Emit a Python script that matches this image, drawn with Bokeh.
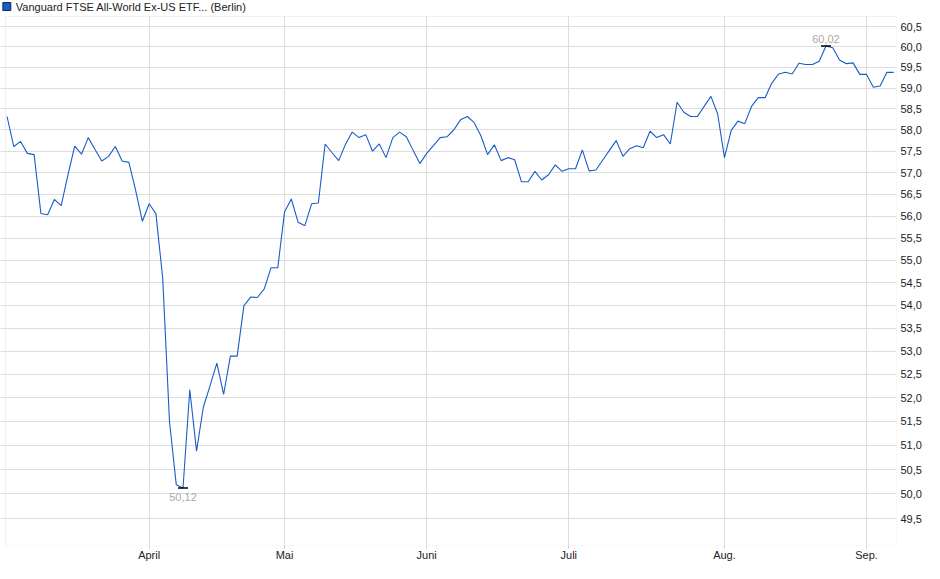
import pandas as pd
from bokeh.plotting import figure
from bokeh.models import (Range1d, FixedTicker, CustomJSTickFormatter, BoxAnnotation)
from bokeh.core.properties import value
from bokeh.embed import file_html
from bokeh.resources import INLINE

# ---------------- data ----------------
title_text = "Vanguard FTSE All-World Ex-US ETF... (Berlin)"

holidays = ["2025-04-18", "2025-04-21", "2025-05-01"]
dates = [d for d in pd.bdate_range("2025-03-03", "2025-09-05")
         if d.strftime("%Y-%m-%d") not in holidays]

prices = [
    58.32, 57.61, 57.73, 57.45, 57.42, 56.06, 56.03, 56.38, 56.24, 56.95,
    57.62, 57.43, 57.82, 57.54, 57.27, 57.38, 57.61, 57.27, 57.24, 56.59,
    55.88, 56.28, 56.05, 54.60, 51.50, 50.19, 50.12, 52.17, 50.88, 51.80,
    52.26, 52.74, 52.07, 52.89, 52.89, 53.99, 54.18, 54.17, 54.36, 54.83,
    54.83, 56.09, 56.39, 55.86, 55.78, 56.28, 56.30, 57.67, 57.47, 57.28,
    57.66, 57.95, 57.82, 57.89, 57.50, 57.67, 57.35, 57.82, 57.95, 57.84,
    57.52, 57.21, 57.45, 57.63, 57.82, 57.84, 58.00, 58.24, 58.32, 58.18,
    57.87, 57.42, 57.65, 57.28, 57.35, 57.30, 56.79, 56.79, 57.03, 56.83,
    56.95, 57.18, 57.03, 57.09, 57.09, 57.53, 57.04, 57.06, 57.29, 57.52,
    57.75, 57.38, 57.56, 57.63, 57.58, 57.97, 57.82, 57.89, 57.67, 58.66,
    58.42, 58.32, 58.32, 58.56, 58.80, 58.38, 57.35, 57.99, 58.21, 58.15,
    58.56, 58.77, 58.77, 59.12, 59.34, 59.38, 59.34, 59.60, 59.57, 59.57,
    59.65, 60.02, 59.98, 59.68, 59.59, 59.61, 59.33, 59.33, 59.02, 59.05,
    59.38, 59.38,
]

month_names = {4: "April", 5: "Mai", 6: "Juni", 7: "Juli", 8: "Aug.", 9: "Sep."}
y_tick_values = [49.5, 50.0, 50.5, 51.0, 51.5, 52.0, 52.5, 53.0, 53.5, 54.0,
                 54.5, 55.0, 55.5, 56.0, 56.5, 57.0, 57.5, 58.0, 58.5, 59.0,
                 59.5, 60.0, 60.5]

# ---------------- derived ----------------
n = min(len(dates), len(prices))
xs = list(range(n))
prices = prices[:n]
month_ticks = [i for i in range(1, n)
               if dates[i].month != dates[i - 1].month and dates[i].month in month_names]
month_labels = {i: month_names[dates[i].month] for i in month_ticks}

i_min = min(range(n), key=lambda i: prices[i])
i_max = max(range(n), key=lambda i: prices[i])

def de(v):
    return f"{v:.2f}".replace(".", ",")

# ---------------- layout / styling ----------------
BLUE = "#1a5cc6"
GRID = "#dddddd"
FONT = "Liberation Sans"

X_START, X_END = -0.967, 131.42      # frame reaches the left edge of the canvas
PLOT_LEFT = -0.23                    # left border of the chart area
Y_BOTTOM, Y_TOP = 48.96, 61.145      # frame reaches the top of the canvas
PLOT_TOP = 60.748                    # top border of the chart area
TITLE_Y = 60.995                     # row of the title, above the border
SQUARE_X = PLOT_LEFT + 0.2

p = figure(width=924, height=563,
           x_range=Range1d(X_START, X_END),
           y_range=Range1d(Y_BOTTOM, Y_TOP),
           y_axis_type="log", y_axis_location="right",
           output_backend="svg", toolbar_location=None,
           min_border_left=0, min_border_right=26,
           min_border_top=0, min_border_bottom=18)

p.background_fill_color = "white"
p.border_fill_color = "white"
p.outline_line_color = None

# white strip above the chart area hides the vertical grid lines there
p.add_layout(BoxAnnotation(bottom=PLOT_TOP, fill_color="white", fill_alpha=1,
                           line_color=None, level="underlay"))
# chart-area border
p.add_layout(BoxAnnotation(top=PLOT_TOP, left=PLOT_LEFT, fill_color=None, fill_alpha=0,
                           line_color="#cccccc", line_width=1, level="underlay"))

p.line(xs, prices, line_color=BLUE, line_width=1.1)

# min / max markers
p.scatter([i_min, i_max], [prices[i_min], prices[i_max]], marker="dash",
          size=10, line_color="black", line_width=1.5)
p.text([i_min], [prices[i_min]], text=[de(prices[i_min])], text_align="center",
       text_baseline="top", y_offset=5, text_font=value(FONT),
       text_font_size="11px", text_color="#a8aab0")
p.text([i_max], [prices[i_max]], text=[de(prices[i_max])], text_align="center",
       text_baseline="bottom", y_offset=-3, text_font=value(FONT),
       text_font_size="11px", text_color="#b0a89e")

# title: blue square + text
p.scatter([SQUARE_X], [TITLE_Y], marker="square", size=8, fill_color=BLUE,
          line_color="#102a60", line_width=1)
p.text([SQUARE_X], [TITLE_Y], text=[title_text], x_offset=9, y_offset=0.5,
       text_align="left", text_baseline="middle", text_font=value(FONT),
       text_font_size="11px", text_color="#222222")

# x axis
p.xaxis.ticker = FixedTicker(ticks=month_ticks)
p.xaxis.major_label_overrides = month_labels
p.xaxis.major_label_text_font = FONT
p.xaxis.major_label_text_font_size = "11px"
p.xaxis.major_label_text_color = "#222222"
p.xaxis.axis_line_color = None
p.xaxis.major_tick_line_color = "#cccccc"
p.xaxis.major_tick_out = 3
p.xaxis.major_tick_in = 0
p.xaxis.minor_tick_line_color = None
p.xaxis.major_label_standoff = 0

# y axis
p.yaxis.ticker = FixedTicker(ticks=y_tick_values)
p.yaxis.formatter = CustomJSTickFormatter(code="return tick.toFixed(1).replace('.', ',');")
p.yaxis.major_label_text_font = FONT
p.yaxis.major_label_text_font_size = "11px"
p.yaxis.major_label_text_color = "#222222"
p.yaxis.axis_line_color = None
p.yaxis.major_tick_out = 0
p.yaxis.major_tick_in = 0
p.yaxis.minor_tick_line_color = None
p.yaxis.major_label_standoff = 4

p.xgrid.grid_line_color = GRID
p.ygrid.grid_line_color = GRID
p.xgrid.grid_line_width = 1
p.ygrid.grid_line_width = 1

open("out.html", "w").write(file_html(p, INLINE))
